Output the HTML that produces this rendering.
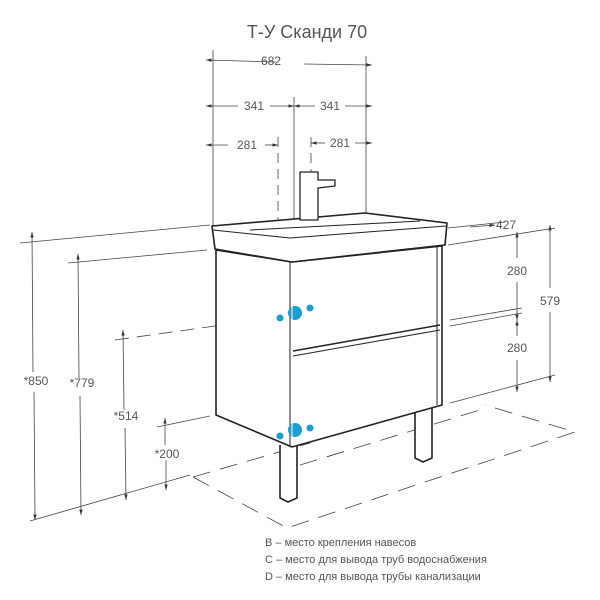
<!DOCTYPE html>
<html><head><meta charset="utf-8"><style>
html,body{margin:0;padding:0;background:#fff;width:600px;height:600px;overflow:hidden}
svg{display:block}
text{font-family:"Liberation Sans","DejaVu Sans",sans-serif;fill:#555}
</style></head><body>
<svg width="600" height="600" viewBox="0 0 600 600" xmlns="http://www.w3.org/2000/svg">
<defs><marker id="a" viewBox="0 0 10 10" refX="10" refY="5" markerWidth="7" markerHeight="7" orient="auto-start-reverse"><path d="M0,2 L10,5 L0,8 z" fill="#333"/></marker></defs>
<text x="307" y="38" font-size="18" text-anchor="middle" fill="#444">Т-У Сканди 70</text>
<g stroke="#444" stroke-width="0.8" fill="none">
<!-- top dims -->
<line x1="213" y1="50" x2="213" y2="226"/><line x1="366" y1="56" x2="366" y2="214"/>
<line x1="206" y1="60" x2="276" y2="62" marker-start="url(#a)"/><line x1="304" y1="64" x2="372" y2="65" marker-end="url(#a)"/>
<line x1="294" y1="97" x2="294" y2="262"/>
<line x1="206" y1="106" x2="238" y2="106" marker-start="url(#a)"/><line x1="270" y1="106" x2="294" y2="106" marker-end="url(#a)"/>
<line x1="294" y1="106" x2="315" y2="106" marker-start="url(#a)"/><line x1="345" y1="106" x2="372" y2="106" marker-end="url(#a)"/>
<line x1="206" y1="145" x2="228" y2="145" marker-start="url(#a)"/><line x1="265" y1="145" x2="278" y2="145" marker-end="url(#a)"/>
<line x1="311" y1="143" x2="325" y2="143" marker-start="url(#a)"/><line x1="355" y1="143" x2="372" y2="143" marker-end="url(#a)"/>
<line x1="278" y1="137" x2="278" y2="440" stroke-dasharray="10,6"/><line x1="311" y1="137" x2="311" y2="430" stroke-dasharray="10,6"/>
<!-- left dims -->
<line x1="20" y1="243" x2="210" y2="225"/>
<line x1="32" y1="232" x2="33" y2="372" marker-start="url(#a)"/><line x1="34" y1="392" x2="35" y2="520" marker-end="url(#a)"/>
<line x1="68" y1="263" x2="207" y2="250"/>
<line x1="78" y1="254" x2="79" y2="378" marker-start="url(#a)"/><line x1="80" y1="396" x2="81" y2="515" marker-end="url(#a)"/>
<line x1="115" y1="340" x2="272" y2="318" stroke-dasharray="14,8"/>
<line x1="123" y1="330" x2="124" y2="410" marker-start="url(#a)"/><line x1="125" y1="428" x2="126" y2="500" marker-end="url(#a)"/>
<line x1="157" y1="427" x2="210" y2="416"/>
<line x1="165" y1="418" x2="165" y2="445" marker-start="url(#a)"/><line x1="166" y1="460" x2="166" y2="490" marker-end="url(#a)"/>
<line x1="30" y1="521" x2="190" y2="475"/>
<!-- floor -->
<path d="M193,477 L287,528 L575,432 L485,405" stroke-dasharray="18,10"/>
<line x1="193" y1="477" x2="310" y2="443" stroke-dasharray="18,10"/>
<line x1="300" y1="465" x2="480" y2="410" stroke-dasharray="18,10"/>
<!-- right dims -->
<line x1="448" y1="228" x2="505" y2="222"/><line x1="448" y1="245" x2="555" y2="228"/>
<line x1="470" y1="227" x2="495" y2="225" marker-end="url(#a)"/>
<line x1="517" y1="232" x2="517" y2="258" marker-start="url(#a)"/><line x1="517" y1="282" x2="517" y2="320" marker-end="url(#a)"/>
<line x1="517" y1="320" x2="517" y2="336" marker-start="url(#a)"/><line x1="517" y1="360" x2="517" y2="392" marker-end="url(#a)"/>
<line x1="550" y1="225" x2="550" y2="288" marker-start="url(#a)"/><line x1="550" y1="312" x2="550" y2="382" marker-end="url(#a)"/>
<line x1="450" y1="320" x2="522" y2="308"/><line x1="450" y1="326" x2="522" y2="313"/>
<line x1="450" y1="403" x2="555" y2="375"/>
</g>
<g font-size="12" fill="#555">
<text x="271" y="65" text-anchor="middle">682</text>
<text x="254" y="110" text-anchor="middle">341</text><text x="330" y="110" text-anchor="middle">341</text>
<text x="247" y="149" text-anchor="middle">281</text><text x="340" y="147" text-anchor="middle">281</text>
<text x="506" y="229" text-anchor="middle">427</text>
<text x="517" y="275" text-anchor="middle">280</text><text x="517" y="352" text-anchor="middle">280</text>
<text x="550" y="305" text-anchor="middle">579</text>
<text x="36" y="385" text-anchor="middle">*850</text><text x="82" y="387" text-anchor="middle">*779</text>
<text x="126" y="420" text-anchor="middle">*514</text><text x="167" y="458" text-anchor="middle">*200</text>
</g>
<!-- cabinet -->
<g stroke="#222" stroke-width="1.6" fill="#fff" stroke-linejoin="round">
<path d="M280,445 L280,498 L288,502 L297,498 L297,445"/>
<path d="M415,410 L415,458 L423,462 L432,458 L432,405"/>
<path d="M216,250 L216,415 L292,447 L442,405 L442,246 L292,262 Z"/>
<path d="M212,226 L365,213 L447,223 L445,245 L292,262 L215,249 Z"/>
<path d="M300,172 L300,220 L318,220 L318,188 L335,186 L335,180 L318,180 L318,172 Z" stroke-width="1.3"/>
</g>
<g stroke="#222" stroke-width="1" fill="none">
<path d="M213,230 L290,238 L446,226"/>
<path d="M250,230 L420,221"/>
<line x1="290" y1="262" x2="290" y2="447"/>
<line x1="437" y1="247" x2="437" y2="405"/>
<line x1="293" y1="351" x2="440" y2="325" stroke-width="1.4"/><line x1="293" y1="356" x2="440" y2="330"/>
</g>
<g fill="#1a9fd4">
<circle cx="280" cy="318" r="3.5"/><circle cx="295" cy="313" r="7"/><circle cx="310" cy="308" r="3.5"/>
<circle cx="280" cy="436" r="3.5"/><circle cx="295" cy="430" r="7"/><circle cx="310" cy="428" r="3.5"/>
</g>
<g stroke="#fff" stroke-width="1"><line x1="292" y1="304" x2="292" y2="322"/><line x1="292" y1="422" x2="292" y2="440"/></g>
<g font-size="11" fill="#444">
<text x="265" y="546">B – место крепления навесов</text>
<text x="265" y="563">C – место для вывода труб водоснабжения</text>
<text x="265" y="580">D – место для вывода трубы канализации</text>
</g>
</svg>
</body></html>
